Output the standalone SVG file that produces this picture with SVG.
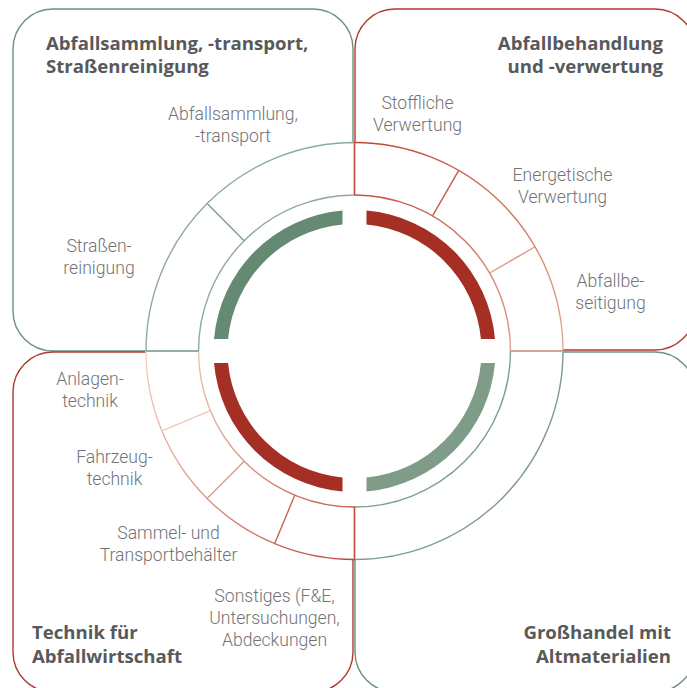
<svg xmlns="http://www.w3.org/2000/svg" width="687" height="688" viewBox="0 0 687 688">
<defs>
<linearGradient id="gTR" gradientUnits="userSpaceOnUse" x1="354.5" y1="142.5" x2="563" y2="351">
<stop offset="0" stop-color="#bf4535"/><stop offset="0.5" stop-color="#cf7560"/><stop offset="1" stop-color="#e2a893"/>
</linearGradient>
<linearGradient id="gBL" gradientUnits="userSpaceOnUse" x1="146" y1="351" x2="354.5" y2="559.5">
<stop offset="0" stop-color="#f4d3c7"/><stop offset="0.5" stop-color="#dc9681"/><stop offset="1" stop-color="#bf4535"/>
</linearGradient>
<style>
.boxg{fill:none;stroke:#6e917b;stroke-width:1.4}
.boxr{fill:none;stroke:#b13a2f;stroke-width:1.4}
.ring{fill:none;stroke-width:1.4}
.hd{font-family:"Open Sans","Liberation Sans",sans-serif;font-weight:700;font-size:18.6px;fill:#58595b}
.lb{font-family:Roboto,"Liberation Sans",sans-serif;font-weight:300;font-size:17.6px;fill:#727376;text-anchor:middle}
.dv{stroke-width:1.4}
</style>
</defs>
<rect width="687" height="688" fill="#ffffff"/>
<g id="box-tl">
<rect class="boxg" x="13" y="9" width="340" height="342" rx="40"/>
<text class="hd" x="46" y="50">Abfallsammlung, -transport,</text>
<text class="hd" x="46" y="73">Straßenreinigung</text>
</g>
<g id="box-tr">
<rect class="boxr" x="355" y="9" width="340" height="341" rx="40"/>
<text class="hd" x="663" y="50" text-anchor="end">Abfallbehandlung</text>
<text class="hd" x="663" y="73" text-anchor="end">und -verwertung</text>
</g>
<g id="box-bl">
<rect class="boxr" x="13" y="352" width="340" height="340" rx="40"/>
<text class="hd" x="32" y="639">Technik für</text>
<text class="hd" x="32" y="663">Abfallwirtschaft</text>
</g>
<g id="box-br">
<rect class="boxg" x="355" y="352" width="340" height="340" rx="40"/>
<text class="hd" x="671" y="639" text-anchor="end">Großhandel mit</text>
<text class="hd" x="671" y="663" text-anchor="end">Altmaterialien</text>
</g>
<circle cx="354.5" cy="351" r="208.5" fill="#ffffff"/>
<g id="connectors">
<path class="ring" stroke="#8eab98" d="M146 351 A208.5 208.5 0 0 1 354.5 142.5 L354.5 195 A156 156 0 0 0 198.5 351 Z"/>
<path class="ring" stroke="#7e9e89" d="M563 351 A208.5 208.5 0 0 1 354.5 559.5 L354.5 507 A156 156 0 0 0 510.5 351 Z"/>
<path class="ring" stroke="url(#gTR)" d="M354.5 142.5 A208.5 208.5 0 0 1 563 351 M510.5 351 A156 156 0 0 0 354.5 195"/>
<path class="ring" stroke="url(#gBL)" d="M354.5 559.5 A208.5 208.5 0 0 1 146 351 M198.5 351 A156 156 0 0 0 354.5 507"/>
<line class="dv" stroke="#c04a39" x1="354.5" y1="142.5" x2="354.5" y2="195"/>
<line class="dv" stroke="#e0a38e" x1="510.5" y1="351" x2="563" y2="351"/>
<line class="dv" stroke="#8eab98" x1="146" y1="351" x2="198.5" y2="351"/>
<line class="dv" stroke="#c24e3c" x1="354.5" y1="507" x2="354.5" y2="559.5"/>
<line class="dv" stroke="#7e9e89" x1="244.2" y1="240.7" x2="207.1" y2="203.6"/>
<line class="dv" stroke="#c75b46" x1="432.5" y1="215.9" x2="458.75" y2="170.4"/>
<line class="dv" stroke="#db9883" x1="489.6" y1="273" x2="535.1" y2="246.75"/>
<line class="dv" stroke="#f1c8b9" x1="210.4" y1="410.7" x2="161.9" y2="430.8"/>
<line class="dv" stroke="#dd9c87" x1="244.2" y1="461.3" x2="207.1" y2="498.4"/>
<line class="dv" stroke="#c8644f" x1="294.8" y1="495.1" x2="274.7" y2="543.6"/>
</g>
<g id="core">
<path fill="#648a73" d="M214.01 339 A141 141 0 0 1 342.5 210.51 L342.5 224.57 A127 127 0 0 0 228.07 339 Z"/>
<path fill="#a52e25" d="M366.5 210.51 A141 141 0 0 1 494.99 339 L480.93 339 A127 127 0 0 0 366.5 224.57 Z"/>
<path fill="#7f9c89" d="M494.99 363 A141 141 0 0 1 366.5 491.49 L366.5 477.43 A127 127 0 0 0 480.93 363 Z"/>
<path fill="#a52e25" d="M342.5 491.49 A141 141 0 0 1 214.01 363 L228.07 363 A127 127 0 0 0 342.5 477.43 Z"/>
</g>
<g id="labels">
<text class="lb" x="233" y="120">Abfallsammlung,</text>
<text class="lb" x="233" y="142">-transport</text>
<text class="lb" x="99" y="252">Straßen-</text>
<text class="lb" x="99" y="274">reinigung</text>
<text class="lb" x="417.5" y="109">Stoffliche</text>
<text class="lb" x="417.5" y="131">Verwertung</text>
<text class="lb" x="562.5" y="181">Energetische</text>
<text class="lb" x="562.5" y="203">Verwertung</text>
<text class="lb" x="610.5" y="287">Abfallbe-</text>
<text class="lb" x="610.5" y="309">seitigung</text>
<text class="lb" x="90" y="385">Anlagen-</text>
<text class="lb" x="90" y="407">technik</text>
<text class="lb" x="114.5" y="463">Fahrzeug-</text>
<text class="lb" x="114.5" y="485">technik</text>
<text class="lb" x="168.5" y="539">Sammel- und</text>
<text class="lb" x="168.5" y="561">Transportbehälter</text>
<text class="lb" x="274.5" y="602">Sonstiges (F&amp;E,</text>
<text class="lb" x="274.5" y="624">Untersuchungen,</text>
<text class="lb" x="274.5" y="646">Abdeckungen</text>
</g>
</svg>
